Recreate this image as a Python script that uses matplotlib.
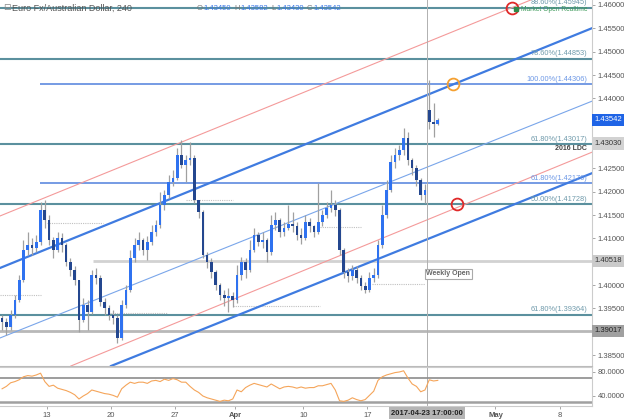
import numpy as np
import matplotlib
matplotlib.use('Agg')
import matplotlib.pyplot as plt
import matplotlib.transforms as mtransforms

plt.rcParams['font.family'] = ['Liberation Sans', 'DejaVu Sans']

# 240 min EUR/AUD candles (3 bars per trading day here)
closes = [
    1.3921, 1.3910, 1.3936, 1.3968, 1.4011, 1.4075, 1.4086, 1.4079, 1.4092, 1.4161,
    1.4139, 1.4096, 1.4075, 1.4101, 1.4086, 1.4049, 1.4032, 1.4011, 1.3925, 1.3957,
    1.3942, 1.4021, 1.4015, 1.3964, 1.3951, 1.3936, 1.3929, 1.3886, 1.3957, 1.3989,
    1.4058, 1.4086, 1.4096, 1.4075, 1.4092, 1.4114, 1.4129, 1.4171, 1.4193, 1.4221,
    1.4229, 1.4279, 1.4257, 1.4268, 1.4272, 1.4182, 1.4156, 1.4064, 1.4049, 1.4028,
    1.4000, 1.3979, 1.3972, 1.3976, 1.3968, 1.4021, 1.4049, 1.4032, 1.4075, 1.4107,
    1.4092, 1.4096, 1.4071, 1.4129, 1.4139, 1.4114, 1.4122, 1.4131, 1.4126, 1.4107,
    1.4101, 1.4135, 1.4126, 1.4114, 1.4135, 1.4150, 1.4165, 1.4171, 1.4161, 1.4075,
    1.4028, 1.4019, 1.4032, 1.4015, 1.3998, 1.3989, 1.4015, 1.4021, 1.4086, 1.4150,
    1.4204, 1.4264, 1.4279, 1.4289, 1.4315, 1.4268, 1.4251, 1.4225, 1.4193, 1.4204,
    1.4349, 1.4345, 1.43542]
highs = [
    1.3936, 1.3929, 1.3946, 1.3979, 1.4021, 1.4096, 1.4114, 1.4101, 1.4107, 1.4178,
    1.4182, 1.4150, 1.4103, 1.4114, 1.4112, 1.4090, 1.4058, 1.4041, 1.4011, 1.3972,
    1.3968, 1.4032, 1.4036, 1.4021, 1.3972, 1.3957, 1.3946, 1.3936, 1.3968, 1.4000,
    1.4075, 1.4101, 1.4114, 1.4101, 1.4105, 1.4129, 1.4139, 1.4199, 1.4204, 1.4236,
    1.4246, 1.4294, 1.4311, 1.4279, 1.4306, 1.4279, 1.4182, 1.4161, 1.4071, 1.4058,
    1.4032, 1.4004, 1.3989, 1.3994, 1.3985, 1.4043, 1.4060, 1.4058, 1.4096, 1.4122,
    1.4114, 1.4114, 1.4101, 1.4150, 1.4156, 1.4144, 1.4135, 1.4171, 1.4156, 1.4135,
    1.4122, 1.4150, 1.4144, 1.4129, 1.4219, 1.4161, 1.4178, 1.4204, 1.4182, 1.4165,
    1.4079, 1.4036, 1.4043, 1.4041, 1.4021, 1.4006, 1.4028, 1.4036, 1.4096, 1.4171,
    1.4225, 1.4279, 1.4294, 1.4300, 1.4336, 1.4328, 1.4272, 1.4257, 1.4229, 1.4216,
    1.4439, 1.4390, 1.43582]
lows = [
    1.3904, 1.3893, 1.3904, 1.3929, 1.3964, 1.4006, 1.4064, 1.4064, 1.4071, 1.4086,
    1.4122, 1.4086, 1.4058, 1.4071, 1.4071, 1.4041, 1.4019, 1.4000, 1.3899, 1.3921,
    1.3904, 1.3938, 1.4002, 1.3955, 1.3936, 1.3925, 1.3916, 1.3876, 1.3882, 1.3951,
    1.3985, 1.4049, 1.4075, 1.4064, 1.4054, 1.4086, 1.4105, 1.4122, 1.4161, 1.4186,
    1.4212, 1.4225, 1.4251, 1.4221, 1.4257, 1.4176, 1.4144, 1.4058, 1.4036, 1.4015,
    1.3989, 1.3968, 1.3955, 1.3942, 1.3953, 1.3961, 1.4011, 1.4015, 1.4028, 1.4071,
    1.4084, 1.4079, 1.4049, 1.4064, 1.4118, 1.4103, 1.4105, 1.4118, 1.4114, 1.4096,
    1.4088, 1.4096, 1.4114, 1.4103, 1.4109, 1.4126, 1.4144, 1.4156, 1.4148, 1.4064,
    1.4015, 1.4006, 1.4011, 1.4004, 1.3989, 1.3983, 1.3985, 1.4006, 1.4015, 1.4079,
    1.4144, 1.4199, 1.4251, 1.4268, 1.4279, 1.4257, 1.4236, 1.4212, 1.4182, 1.4176,
    1.4335, 1.4317, 1.4343]
first_open = 1.3929
gap_bar = 100
gap_open = 1.4376

rsi = [
    52, 56, 62, 64, 67, 72, 74, 73, 75, 78,
    64, 56, 58, 53, 51, 49, 46, 42, 35, 40,
    44, 50, 48, 46, 44, 43, 41, 38, 52, 58,
    63, 61, 63, 63, 61, 65, 66, 64, 68, 66,
    69, 67, 63, 63, 56, 50, 46, 40, 37, 35,
    33, 31, 33, 32, 35, 50, 47, 54, 58, 61,
    59, 57, 55, 60, 56, 52, 55, 56, 55, 53,
    55, 53, 54, 54, 57, 57, 59, 61, 50, 32,
    31, 33, 37, 34, 32, 34, 41, 48, 66, 72,
    75, 77, 79, 80, 82, 70, 60, 56, 47, 50,
    67, 65, 66]

# fib / support levels
teal_levels = [1.45945, 1.44853, 1.43017, 1.41728, 1.39364]
teal_labels = ['88.60%(1.45945)', '78.60%(1.44853)', '61.80%(1.43017)',
               '50.00%(1.41728)', '61.80%(1.39364)']
blue_levels = [1.44306, 1.42176]
blue_labels = ['100.00%(1.44306)', '61.80%(1.42176)']
blue_start = 8.9
weekly_open = 1.40518
weekly_start = 21.3
low_level = 1.39017
ldc_level = 1.43030
last_price = 1.43542

# dotted short reference lines
dot_levels = [1.3979, 1.4133, 1.4182, 1.3941, 1.3956, 1.4125, 1.4002]
dot_starts = [-0.5, 10.5, 43.0, 25.3, 54.0, 74.5, 86.6]
dot_ends = [9.0, 23.6, 54.0, 38.6, 74.5, 84.0, 99.0]

# channel anchors (bar, price)
upper_blue = [(-0.5, 1.40365), (138.2, 1.45507)]
mid_blue = [(-0.5, 1.38865), (138.2, 1.43943)]
lower_blue = [(25.5, 1.38265), (138.2, 1.42400)]
upper_red = [(-0.5, 1.41479), (119.4, 1.45945)]
lower_red = [(16.1, 1.38265), (138.2, 1.42850)]
circles = [(105.6, 1.44306, '#f5a030'), (106.5, 1.41728, '#e02828'), (119.4, 1.45945, '#e02828')]

tick_pos = [10.5, 25.5, 40.5, 54.5, 70.5, 85.5, 115.5, 130.5]
tick_lab = ['13', '20', '27', 'Apr', '10', '17', 'May', '8']
session_line = 99.5

W, H = 624, 419
fig = plt.figure(figsize=(W / 100, H / 100), dpi=100)
ax = fig.add_axes([0, 53 / H, 592 / W, 366 / H])
ax2 = fig.add_axes([0, 13 / H, 592 / W, 39 / H])

n = len(closes)
idx = np.arange(n)
c = np.array(closes)
o = np.array([first_open] + closes[:-1])
o[gap_bar] = gap_open
hi = np.maximum(np.array(highs), np.maximum(o, c))
lo = np.minimum(np.array(lows), np.minimum(o, c))

ax.set_xlim(-0.49, 138.1)
ax.set_ylim(1.38265, 1.46107)

teal = '#5b909e'
lblue = '#4f80dc'
for lv in teal_levels:
    ax.axhline(lv, color=teal, lw=1.5, zorder=1)
for lv in blue_levels:
    ax.hlines(lv, blue_start, 138.1, color=lblue, lw=1.1, zorder=1)
ax.hlines(weekly_open, weekly_start, 138.1, color='#d2d2d2', lw=2, zorder=1)
ax.axhline(low_level, color='#b8b8b8', lw=2, zorder=1)
for lv, a, b in zip(dot_levels, dot_starts, dot_ends):
    ax.hlines(lv, a, b, color='#c0c0c0', lw=0.8, linestyles=(0, (1, 1)), zorder=1)

ax.axline(*upper_blue, color='#3f7be0', lw=1.6, zorder=1)
ax.axline(*lower_blue, color='#3f7be0', lw=1.6, zorder=1)
ax.axline(*mid_blue, color='#7aa6ea', lw=0.8, zorder=1)
ax.axline(*upper_red, color='#f49a9a', lw=0.8, zorder=1)
ax.axline(*lower_red, color='#f49a9a', lw=0.8, zorder=1)

ax.axvline(session_line, color='#b0b0b0', lw=0.7, zorder=1)
ax2.axvline(session_line, color='#b0b0b0', lw=0.7, zorder=1)

# candles
cols = np.where(c >= o, '#2f72f0', '#24478f')
ax.vlines(idx, lo, hi, color='#a0a0a0', lw=0.9, zorder=2)
ax.bar(idx, np.maximum(np.abs(c - o), 0.00008), bottom=np.minimum(o, c),
       width=0.62, color=cols, linewidth=0, zorder=3)

for x, y, col in circles:
    ax.plot(x, y, 'o', ms=8.5, mfc='none', mec=col, mew=1.3, zorder=5, clip_on=False)

# level labels
lab_x = 137.0
for lv, t in zip(teal_levels, teal_labels):
    ax.text(lab_x, lv + 0.0003, t, ha='right', va='bottom', fontsize=5.3,
            color='#6f9aab', zorder=4)
for lv, t in zip(blue_levels, blue_labels):
    ax.text(lab_x, lv + 0.0003, t, ha='right', va='bottom', fontsize=5.3,
            color='#6d98e6', zorder=4)
ax.text(lab_x, ldc_level - 0.0003, '2016 LDC', ha='right', va='top', fontsize=5,
        color='#444444', fontweight='bold', zorder=4)
ax.text(99.3, 1.4024, 'Weekly Open', ha='left', va='center', fontsize=5,
        color='#666666', fontweight='bold', zorder=4,
        bbox=dict(boxstyle='square,pad=0.25', fc='white', ec='#aaaaaa', lw=0.8))
ax.plot(120.4, 1.4591, 's', ms=2.2, color='#2f8a4a', zorder=5)
ax.text(121.5, 1.4591, 'Market Open Realtime', ha='left', va='center', fontsize=4.8,
        color='#3d9a5a', zorder=4)

# right price axis
ax.yaxis.tick_right()
yt = [1.385, 1.395, 1.40, 1.41, 1.415, 1.42, 1.425, 1.44, 1.445, 1.45, 1.455, 1.46]
ax.set_yticks(yt)
ax.set_yticklabels(['%.5f' % v for v in yt])
ax.tick_params(axis='y', length=2.5, width=0.6, color='#999999', pad=1.5,
               labelsize=5.5, labelcolor='#555555')
ax.set_xticks([])
for s in ['left', 'top']:
    ax.spines[s].set_visible(False)
ax.spines['right'].set_color('#cccccc')
ax.spines['bottom'].set_color('#bbbbbb')

trans = mtransforms.blended_transform_factory(ax.transAxes, ax.transData)
tags = [(last_price, '#1f64e6', 'white'), (ldc_level, '#d2d2d2', '#333333'),
        (weekly_open, '#cacaca', '#333333'), (low_level, '#a0a0a0', '#222222')]
for v, fc, tc in tags:
    ax.text(1.004, v, '%.5f' % v, transform=trans, ha='left', va='center',
            fontsize=5.5, color=tc, clip_on=False, zorder=6,
            bbox=dict(boxstyle='square,pad=0.35', fc=fc, ec='none'))

# RSI panel
ax2.plot(idx, rsi, color='#f5a55a', lw=0.8, zorder=3)
ax2.axhline(70, color='#8c8c8c', lw=1.2, zorder=2)
ax2.axhline(30, color='#a0a0a0', lw=1.8, zorder=2)
ax2.set_xlim(-0.49, 138.1)
ax2.set_ylim(23.3, 88.3)
ax2.yaxis.tick_right()
ax2.set_yticks([40, 80])
ax2.set_yticklabels(['40.0000', '80.0000'])
ax2.tick_params(axis='y', length=2.5, width=0.6, color='#999999', pad=1.5,
                labelsize=5.5, labelcolor='#555555')
ax2.set_xticks(tick_pos)
ax2.set_xticklabels(tick_lab)
ax2.tick_params(axis='x', length=2.5, width=0.6, color='#999999', pad=2,
                labelsize=5.5, labelcolor='#555555')
for lab in ax2.get_xticklabels():
    if lab.get_text() in ('Apr', 'May'):
        lab.set_fontweight('bold')
ax2.spines['left'].set_visible(False)
for s in ['right', 'top', 'bottom']:
    ax2.spines[s].set_color('#cccccc')

# date tag on time axis
x_tag = ax2.transData.transform((session_line, 0))[0] / (W)
fig.text(x_tag, 1 - 413 / H, '2017-04-23 17:00:00', ha='center', va='center',
         fontsize=5.5, color='#222222', fontweight='bold',
         bbox=dict(boxstyle='square,pad=0.3', fc='#b5b5b5', ec='none'))

# header
fig.text(3 / W, 1 - 8 / H, '\u229f', fontsize=6.5, color='#888888', va='center',
         family=['DejaVu Sans'])
fig.text(12 / W, 1 - 8 / H, 'Euro Fx/Australian Dollar, 240', fontsize=6.5,
         color='#555555', va='center')
hdr = [('O', 197), ('1.43450', 203), ('H', 234), ('1.43582', 240),
       ('L', 271), ('1.43430', 276), ('C', 307), ('1.43542', 313)]
for t, px in hdr:
    fig.text(px / W, 1 - 8 / H, t, fontsize=5.5, va='center',
             color='#3b78e7' if t[0].isdigit() else '#777777')

fig.savefig('out.png', dpi=100, facecolor='white')
